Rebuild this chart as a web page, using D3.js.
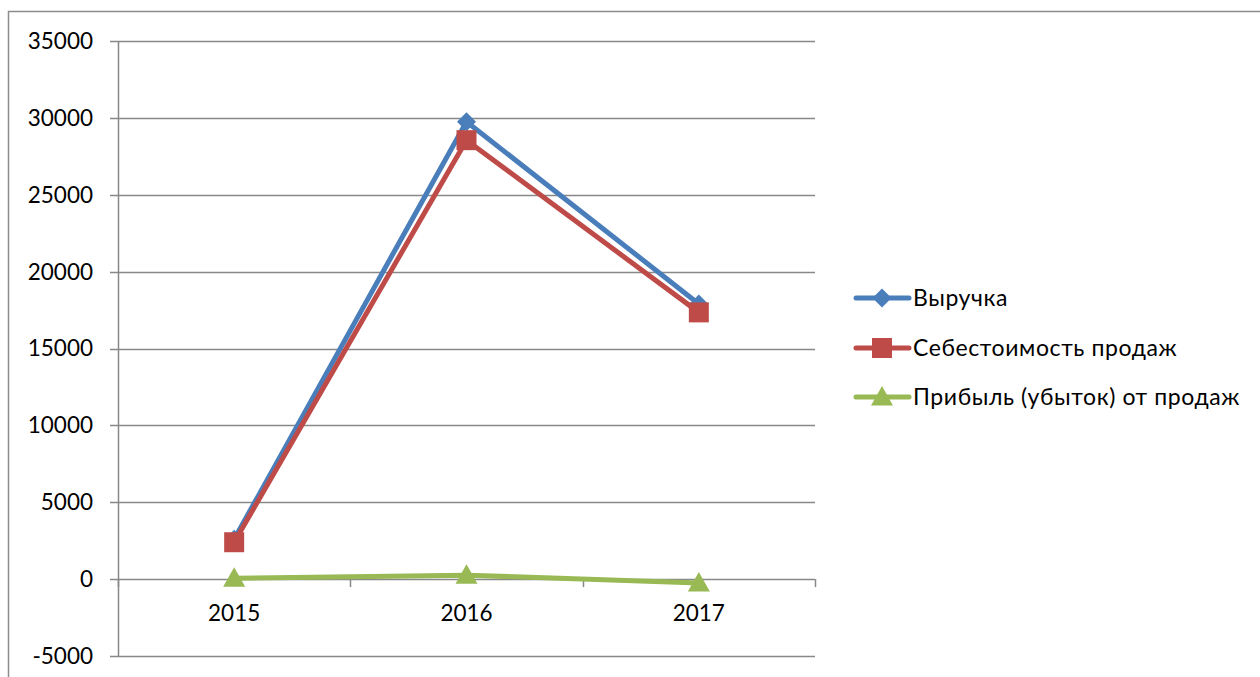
<!DOCTYPE html>
<html>
<head>
<meta charset="utf-8">
<script src="https://cdn.jsdelivr.net/npm/d3@7"></script>
<style>
  html, body { margin: 0; padding: 0; background: #fff; }
  svg { display: block; }
  text { font-family: Lato, "Open Sans", sans-serif; fill: #000; }
</style>
</head>
<body>
<svg id="chart" width="1260" height="677"></svg>
<script>
const categories = ["2015", "2016", "2017"];
const seriesNames = ["Выручка", "Себестоимость продаж", "Прибыль (убыток) от продаж"];
const revenue = [2600, 29750, 17900];
const cost = [2400, 28550, 17350];
const profit = [50, 260, -260];
const yTicks = [-5000, 0, 5000, 10000, 15000, 20000, 25000, 30000, 35000];
const colors = ["#4a7ebb", "#be4b48", "#98b954"];
const markers = ["diamond", "square", "triangle"];

(function () {
const svg = d3.select("#chart");
const pLeft = 118, pRight = 815, pTop = 41, pBottom = 656;

const x = d3.scaleBand().domain(categories).range([pLeft, pRight]);
const y = d3.scaleLinear().domain([-5000, 35000]).range([pBottom, pTop]);

// outer frame
svg.append("rect").attr("x", 8.5).attr("y", 11.5).attr("width", 1300).attr("height", 700)
  .attr("fill", "none").attr("stroke", "#8c8c8c").attr("stroke-width", 1.5);

// gridlines
svg.append("g").selectAll("line").data(yTicks).join("line")
  .attr("x1", pLeft - 8).attr("x2", pRight)
  .attr("y1", d => Math.round(y(d)) + 0.5).attr("y2", d => Math.round(y(d)) + 0.5)
  .attr("stroke", "#888").attr("stroke-width", 1.5);

// y axis
svg.append("line").attr("x1", pLeft + 0.5).attr("x2", pLeft + 0.5).attr("y1", pTop).attr("y2", pBottom)
  .attr("stroke", "#888").attr("stroke-width", 1.5);

// x tick marks on the zero line
const bounds = [pLeft, ...categories.map(c => x(c) + x.bandwidth())];
svg.append("g").selectAll("line").data(bounds).join("line")
  .attr("x1", d => Math.round(d) + 0.5).attr("x2", d => Math.round(d) + 0.5)
  .attr("y1", y(0)).attr("y2", y(0) + 8)
  .attr("stroke", "#888").attr("stroke-width", 1.5);

// y labels
svg.append("g").selectAll("text").data(yTicks).join("text")
  .attr("x", 93).attr("y", d => y(d)).attr("dy", "0.35em")
  .attr("text-anchor", "end").style("font-size", "22.5px")
  .text(d => d);

// x labels
svg.append("g").selectAll("text").data(categories).join("text")
  .attr("x", d => x(d) + x.bandwidth() / 2).attr("y", y(0) + 34)
  .attr("dy", "0.35em").attr("text-anchor", "middle").style("font-size", "22.5px")
  .text(d => d);

function markerPath(type) {
  if (type === "diamond") return "M0,-9.5L9.5,0L0,9.5L-9.5,0Z";
  if (type === "square") return "M-10,-10H10V10H-10Z";
  return "M0,-11L11,8.5H-11Z";
}

const allSeries = [revenue, cost, profit];
const line = d3.line().x((d, i) => x(categories[i]) + x.bandwidth() / 2).y(d => y(d));

allSeries.forEach((vals, si) => {
  const g = svg.append("g");
  g.append("path").datum(vals).attr("d", line)
    .attr("fill", "none").attr("stroke", colors[si]).attr("stroke-width", 5)
    .attr("stroke-linejoin", "round").attr("stroke-linecap", "round");
  g.selectAll("path.m").data(vals).join("path").attr("class", "m")
    .attr("transform", (d, i) => `translate(${x(categories[i]) + x.bandwidth() / 2},${y(d)})`)
    .attr("d", markerPath(markers[si])).attr("fill", colors[si]);
});

// legend
const legY = [298, 348, 397];
seriesNames.forEach((name, i) => {
  const g = svg.append("g").attr("transform", `translate(0,${legY[i]})`);
  g.append("line").attr("x1", 856).attr("x2", 909).attr("y1", 0).attr("y2", 0)
    .attr("stroke", colors[i]).attr("stroke-width", 5).attr("stroke-linecap", "round");
  g.append("path").attr("transform", "translate(882,0)").attr("d", markerPath(markers[i]))
    .attr("fill", colors[i]);
  g.append("text").attr("x", 913).attr("y", 0).attr("dy", "0.35em")
    .style("font-size", "23px").style("letter-spacing", "0.6px").text(name);
});
})();
</script>
</body>
</html>
